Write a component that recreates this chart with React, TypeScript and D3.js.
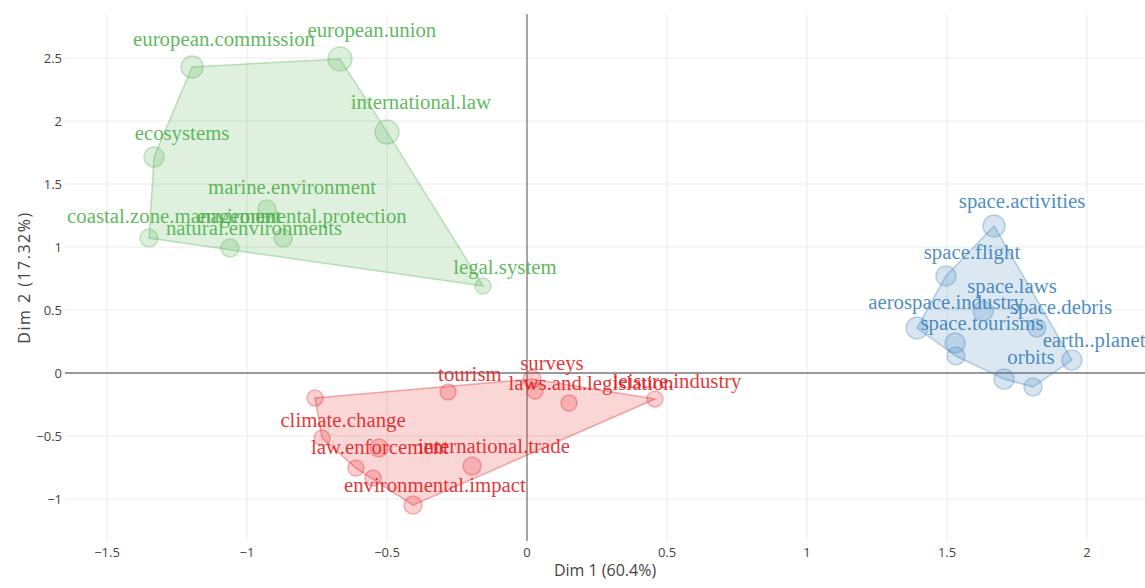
import React from 'react';
import * as d3 from 'd3';

// coordonnées des individus (Dim 1, Dim 2) et taille relative
const greenPts = [
  [-1.196, 2.429, 11], [-0.668, 2.492, 12], [-0.5, 1.913, 12], [-1.332, 1.714, 10],
  [-0.929, 1.302, 9], [-0.871, 1.071, 9], [-1.35, 1.071, 9], [-1.061, 0.992, 9], [-0.157, 0.69, 8],
];
const redPts = [
  [-0.757, -0.198, 8], [-0.732, -0.516, 8], [-0.529, -0.595, 9], [-0.611, -0.754, 8],
  [-0.55, -0.833, 8], [-0.407, -1.048, 9], [-0.282, -0.151, 8], [-0.196, -0.738, 9],
  [0.018, -0.048, 9], [0.029, -0.143, 8], [0.15, -0.238, 8], [0.457, -0.206, 8],
];
const bluePts = [
  [1.668, 1.167, 11], [1.496, 0.77, 10], [1.629, 0.492, 10], [1.393, 0.357, 11],
  [1.821, 0.357, 9], [1.529, 0.238, 10], [1.532, 0.135, 9], [1.946, 0.103, 10],
  [1.704, -0.048, 10], [1.807, -0.111, 9],
];

const greenLabels = [
  ['european.commission', -1.082, 2.643], ['european.union', -0.554, 2.714],
  ['international.law', -0.379, 2.143], ['ecosystems', -1.232, 1.897],
  ['marine.environment', -0.839, 1.468], ['coastal.zone.management', -1.261, 1.238],
  ['environmental.protection', -0.804, 1.238], ['natural.environments', -0.975, 1.143],
  ['legal.system', -0.079, 0.833],
];
const redLabels = [
  ['tourism', -0.204, -0.016], ['surveys', 0.089, 0.071],
  ['laws.and.legislation', 0.229, -0.087], ['leisure.industry', 0.536, -0.071],
  ['climate.change', -0.657, -0.381], ['law.enforcement', -0.525, -0.595],
  ['international.trade', -0.118, -0.587], ['environmental.impact', -0.329, -0.897],
];
const blueLabels = [
  ['space.activities', 1.768, 1.357], ['space.flight', 1.589, 0.952],
  ['space.laws', 1.732, 0.683], ['aerospace.industry', 1.496, 0.556],
  ['space.debris', 1.907, 0.516], ['space.tourisms', 1.625, 0.389],
  ['earth..planet', 2.025, 0.254], ['orbits', 1.8, 0.119],
];

const xTicks = [-1.5, -1, -0.5, 0, 0.5, 1, 1.5, 2];
const yTicks = [-1, -0.5, 0, 0.5, 1, 1.5, 2, 2.5];

const groups = [
  { pts: greenPts, labels: greenLabels, color: '#4daf4a' },
  { pts: redPts, labels: redLabels, color: '#e41a1c' },
  { pts: bluePts, labels: blueLabels, color: '#377eb8' },
];

const W = 1145, H = 588;
const L = 65, R = 1145, T = 14, B = 541;

export default function App() {
  const x = d3.scaleLinear([-1.65, 2.207], [L, R]);
  const y = d3.scaleLinear([-1.333, 2.849], [B, T]);
  const fmt = (v: number) => String(v).replace('-', '\u2212');
  const sans = '"Open Sans", verdana, arial, sans-serif';

  return (
    <svg width={W} height={H} style={{ position: 'absolute', left: 0, top: 0, background: '#fff' }}>
      <defs>
        <clipPath id="plot"><rect x={L} y={T} width={R - L} height={B - T} /></clipPath>
      </defs>
      {/* grille */}
      {xTicks.filter(t => t !== 0).map(t => (
        <line key={'gx' + t} x1={x(t)} x2={x(t)} y1={T} y2={B} stroke="#ebebeb" />
      ))}
      {yTicks.filter(t => t !== 0).map(t => (
        <line key={'gy' + t} x1={L} x2={R} y1={y(t)} y2={y(t)} stroke="#ebebeb" />
      ))}
      <line x1={x(0)} x2={x(0)} y1={T} y2={B} stroke="#777" strokeWidth={1.3} />
      <line x1={L} x2={R} y1={y(0)} y2={y(0)} stroke="#777" strokeWidth={1.3} />

      <g clipPath="url(#plot)">
        {groups.map((g, gi) => {
          const hull = d3.polygonHull(g.pts.map(p => [x(p[0]), y(p[1])] as [number, number]));
          return (
            <g key={gi}>
              <path d={'M' + hull!.join('L') + 'Z'} fill={g.color} fillOpacity={0.18}
                stroke={g.color} strokeOpacity={0.35} strokeWidth={1.5} />
              {g.pts.map((p, i) => (
                <circle key={i} cx={x(p[0])} cy={y(p[1])} r={p[2]} fill={g.color}
                  fillOpacity={0.2} stroke={g.color} strokeOpacity={0.3} strokeWidth={1.5} />
              ))}
            </g>
          );
        })}
        {groups.map((g, gi) => (
          <g key={'l' + gi} fill={g.color} fontFamily='"Liberation Serif", "Times New Roman", serif'
            fontSize={20.8} textAnchor="middle" fillOpacity={0.9}>
            {g.labels.map(l => (
              <text key={l[0] as string} x={x(l[1] as number)} y={y(l[2] as number)} dy="0.3em">{l[0]}</text>
            ))}
          </g>
        ))}
      </g>

      {/* graduations */}
      <g fontFamily={sans} fontSize={13} fill="#444">
        {xTicks.map(t => (
          <text key={'tx' + t} x={x(t)} y={B + 16} textAnchor="middle">{fmt(t)}</text>
        ))}
        {yTicks.map(t => (
          <text key={'ty' + t} x={L - 3} y={y(t)} dy="0.35em" textAnchor="end">{fmt(t)}</text>
        ))}
      </g>
      <text x={(L + R) / 2} y={576} textAnchor="middle" fontFamily={sans} fontSize={16} fill="#444">Dim 1 (60.4%)</text>
      <text transform={`translate(30,${(T + B) / 2}) rotate(-90)`} textAnchor="middle"
        fontFamily={sans} fontSize={16} letterSpacing={1.5} fill="#444">Dim 2 (17.32%)</text>
    </svg>
  );
}
